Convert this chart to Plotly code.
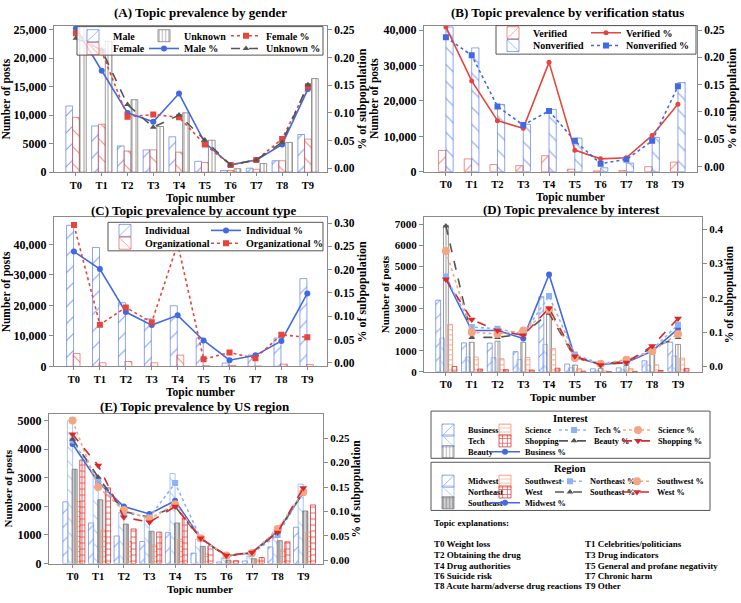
import plotly.graph_objects as go

# ---------------- data ----------------
topics = ["T0", "T1", "T2", "T3", "T4", "T5", "T6", "T7", "T8", "T9"]

# (A) gender
male_posts = [11600, 8100, 4600, 3900, 6200, 1900, 300, 700, 2000, 6600]
female_posts = [9600, 8400, 3700, 3900, 3500, 1700, 300, 500, 2000, 5800]
unknown_posts = [25700, 22900, 12700, 8000, 10400, 5600, 600, 1500, 5200, 16400]
male_pct = [0.253, 0.176, 0.100, 0.084, 0.135, 0.046, 0.006, 0.015, 0.043, 0.143]
female_pct = [0.244, 0.211, 0.093, 0.097, 0.092, 0.043, 0.006, 0.015, 0.053, 0.148]
unknown_pct = [0.235, 0.214, 0.115, 0.074, 0.096, 0.051, 0.006, 0.015, 0.047, 0.151]

# (B) verification
verified_posts = [6000, 3600, 2000, 1700, 4500, 700, 200, 300, 1400, 2700]
nonverified_posts = [40900, 35000, 19000, 13400, 17600, 9500, 1100, 2400, 9700, 25200]
verified_pct = [0.256, 0.157, 0.084, 0.070, 0.191, 0.030, 0.014, 0.016, 0.057, 0.114]
nonverified_pct = [0.237, 0.204, 0.110, 0.076, 0.102, 0.047, 0.005, 0.013, 0.047, 0.147]

# (C) account type
individual_posts = [46300, 39000, 20900, 15600, 19900, 9300, 1100, 3700, 9300, 28800]
organizational_posts = [4250, 1170, 1600, 1170, 3700, 210, 320, 100, 740, 640]
individual_pct = [0.239, 0.2015, 0.109, 0.081, 0.102, 0.048, 0.0055, 0.016, 0.047, 0.149]
organizational_pct = [0.296, 0.082, 0.119, 0.087, 0.256, 0.0076, 0.022, 0.0097, 0.060, 0.055]

# (D) interest
business_posts = [3400, 1370, 1360, 955, 3560, 370, 140, 185, 520, 1400]
tech_posts = [1600, 700, 670, 580, 1300, 190, 50, 90, 310, 750]
beauty_posts = [6950, 1400, 1450, 1400, 2750, 320, 150, 300, 950, 1300]
science_posts = [2250, 700, 620, 680, 1100, 150, 40, 150, 330, 650]
shopping_posts = [250, 130, 100, 80, 170, 30, 10, 20, 60, 160]
business_pct = [0.256, 0.105, 0.105, 0.082, 0.268, 0.028, 0.006, 0.012, 0.045, 0.110]
tech_pct = [0.262, 0.115, 0.110, 0.095, 0.205, 0.035, 0.008, 0.014, 0.050, 0.122]
beauty_pct = [0.409, 0.085, 0.085, 0.095, 0.155, 0.025, 0.008, 0.015, 0.055, 0.085]
science_pct = [0.336, 0.100, 0.095, 0.105, 0.165, 0.025, 0.008, 0.020, 0.045, 0.095]
shopping_pct = [0.254, 0.137, 0.105, 0.091, 0.170, 0.030, 0.005, 0.012, 0.060, 0.140]

# (E) US region
midwest_posts = [2160, 1420, 965, 770, 1080, 365, 57, 90, 580, 1270]
northeast_posts = [5000, 3100, 1800, 1600, 3150, 850, 200, 260, 1100, 2780]
southeast_posts = [3300, 2230, 1380, 1130, 1420, 600, 120, 170, 800, 1840]
southwest_posts = [2170, 1170, 770, 650, 850, 330, 60, 120, 480, 1100]
west_posts = [3620, 2650, 1210, 1100, 1600, 620, 100, 210, 760, 2050]
midwest_pct = [0.238, 0.160, 0.110, 0.095, 0.122, 0.045, 0.009, 0.016, 0.060, 0.138]
northeast_pct = [0.245, 0.165, 0.098, 0.088, 0.158, 0.045, 0.009, 0.014, 0.052, 0.140]
southeast_pct = [0.248, 0.170, 0.100, 0.088, 0.110, 0.044, 0.009, 0.015, 0.058, 0.140]
southwest_pct = [0.286, 0.150, 0.103, 0.085, 0.115, 0.045, 0.010, 0.015, 0.064, 0.140]
west_pct = [0.258, 0.194, 0.088, 0.078, 0.110, 0.045, 0.010, 0.016, 0.057, 0.148]

# tick labels
posts_ticks_a = [0, 5000, 10000, 15000, 20000, 25000]
posts_labels_a = ["0", "5000", "10,000", "15,000", "20,000", "25,000"]
posts_ticks_bc = [0, 10000, 20000, 30000, 40000]
posts_labels_bc = ["0", "10,000", "20,000", "30,000", "40,000"]
posts_ticks_d = [0, 1000, 2000, 3000, 4000, 5000, 6000, 7000]
posts_labels_d = ["0", "1000", "2000", "3000", "4000", "5000", "6000", "7000"]
posts_ticks_e = [0, 1000, 2000, 3000, 4000, 5000]
posts_labels_e = ["0", "1000", "2000", "3000", "4000", "5000"]

topic_explanations = [
    "T0 Weight loss", "T1 Celebrities/politicians",
    "T2 Obtaining the drug", "T3 Drug indicators",
    "T4 Drug authorities", "T5 General and profane negativity",
    "T6 Suicide risk", "T7 Chronic harm",
    "T8 Acute harm/adverse drug reactions", "T9 Other",
]

# ---------------- style ----------------
W, H = 741, 603
FONT = "Liberation Serif"
FRAME = "#8a8a8a"
CLEAR = "rgba(255,255,255,0)"
BLUE = "#4169e1"
BLUE_BAR = "rgba(65,105,225,0.6)"
RED = "#e5453a"
RED_BAR = "rgba(229,69,58,0.6)"
GREY = "#555555"
GREY_BAR = "rgba(110,110,110,0.7)"
LBLUE = "#8fb2f7"
LBLUE_BAR = "rgba(143,178,247,0.75)"
SALMON = "#f4a582"
SALMON_BAR = "rgba(244,150,115,0.8)"
DRED = "#d8282a"
DRED_BAR = "rgba(216,40,42,0.75)"


def fx(p):
    return p / W


def fy(p):
    return 1 - p / H


fig = go.Figure()

# panel geometry in pixels: (left, right, top, bottom), x-title position
panels = [
    dict(box=(54, 327, 23.5, 172), xr=[-0.85, 9.74], yl=[0, 25600], yr=[-0.0071, 0.2568],
         lt=(posts_ticks_a, posts_labels_a), rdt=0.05, rfmt=".2f", tf=12, rtf=11.5, xtf=10.5, atf=11.5,
         xt=(200, 198.5)),
    dict(box=(424, 697, 23, 171.5), xr=[-0.85, 9.74], yl=[0, 41300], yr=[-0.0095, 0.2584],
         lt=(posts_ticks_bc, posts_labels_bc), rdt=0.05, rfmt=".2f", tf=12, rtf=11.5, xtf=10.5, atf=11.5,
         xt=(570, 198)),
    dict(box=(54, 327, 218, 369.5), xr=[-0.77, 9.76], yl=[0, 48900], yr=[-0.0077, 0.3125],
         lt=(posts_ticks_bc, posts_labels_bc), rdt=0.05, rfmt=".2f", tf=12, rtf=11.5, xtf=10.5, atf=11.5,
         xt=(200, 396.5)),
    dict(box=(424, 702, 218, 375), xr=[-0.85, 9.93], yl=[0, 7330], yr=[-0.015, 0.4339],
         lt=(posts_ticks_d, posts_labels_d), rdt=0.1, rfmt=".1f", tf=11, rtf=11, xtf=10.5, atf=11,
         xt=(563, 400.5)),
    dict(box=(49, 323, 418, 570), xr=[-0.92, 9.77], yl=[0, 5230], yr=[-0.0066, 0.2993],
         lt=(posts_ticks_e, posts_labels_e), rdt=0.05, rfmt=".2f", tf=12, rtf=11, xtf=10.5, atf=11,
         xt=(200, 596)),
]

ann = []
for k, p in enumerate(panels):
    l, r, t, b = p["box"]
    xn = "" if k == 0 else str(k + 1)
    yl = "" if k == 0 else str(2 * k + 1)
    yr = str(2 * k + 2)
    common = dict(showgrid=False, zeroline=False, ticks="outside", tickwidth=1,
                  tickcolor=FRAME)
    fig.layout["xaxis" + xn] = dict(
        domain=[fx(l), fx(r)], range=p["xr"], anchor="y" + yl, type="category",
        showline=True, mirror=True, linecolor=FRAME, linewidth=1.2, ticklen=3,
        tickfont=dict(size=p["xtf"]), **common)
    fig.layout["yaxis" + yl] = dict(
        domain=[fy(b), fy(t)], range=p["yl"], anchor="x" + xn, ticklen=4,
        tickvals=p["lt"][0], ticktext=p["lt"][1], tickfont=dict(size=p["tf"]),
        showline=True, mirror=True, linecolor=FRAME, linewidth=1.2,
        title=dict(text="Number of posts", font=dict(size=p["atf"]), standoff=2), **common)
    fig.layout["yaxis" + yr] = dict(
        overlaying="y" + yl, side="right", anchor="x" + xn, range=p["yr"], ticklen=4,
        tick0=0, dtick=p["rdt"], tickformat=p["rfmt"], tickfont=dict(size=p["rtf"]),
        showline=False,
        title=dict(text="% of subpopulation", font=dict(size=p["atf"] + 0.5), standoff=0), **common)
    # x-axis title
    ann.append(dict(text="Topic number", x=fx(p["xt"][0]), y=fy(p["xt"][1]), xref="paper",
                    yref="paper", showarrow=False, xanchor="center", yanchor="middle",
                    font=dict(size=p["atf"])))


def axes(k):
    xa = "x" if k == 0 else "x%d" % (k + 1)
    ya = "y" if k == 0 else "y%d" % (2 * k + 1)
    yb = "y%d" % (2 * k + 2)
    return xa, ya, yb


def add_bar(k, name, vals, center, width, color, shape, legend, lw, size=12, solidity=0.1,
            bg=CLEAR):
    xa, ya, _ = axes(k)
    fig.add_trace(go.Bar(
        x=topics, y=vals, name=name, xaxis=xa, yaxis=ya,
        offset=center - width / 2, width=width,
        marker=dict(color=CLEAR, line=dict(color=color, width=1),
                    pattern=dict(shape=shape, size=size, solidity=solidity, fgcolor=color,
                                 bgcolor=bg, fillmode="replace")),
        legend=legend, legendwidth=lw))


def add_line(k, name, vals, color, dash, symbol, legend, lw, msize=6):
    xa, _, yb = axes(k)
    fig.add_trace(go.Scatter(
        x=topics, y=vals, name=name, xaxis=xa, yaxis=yb, mode="lines+markers",
        line=dict(color=color, width=1.6, dash=dash),
        marker=dict(symbol=symbol, size=msize, color=color),
        legend=legend, legendwidth=lw))


# ---- (A)
add_bar(0, "Male", male_posts, -0.26, 0.26, BLUE_BAR, "/", "legend", 26)
add_bar(0, "Female", female_posts, 0.0, 0.26, RED_BAR, "\\", "legend2", 26)
add_bar(0, "Unknown", unknown_posts, 0.27, 0.26, GREY_BAR, "|", "legend", 37, size=4, solidity=0.25)
add_line(0, "Male %", male_pct, BLUE, "solid", "circle", "legend2", 37)
add_line(0, "Female %", female_pct, RED, "dot", "square", "legend", 0)
add_line(0, "Unknown %", unknown_pct, GREY, "dash", "triangle-up", "legend2", 0)

# ---- (B)
add_bar(1, "Verified", verified_posts, -0.15, 0.28, RED_BAR, "/", "legend3", 48)
add_bar(1, "Nonverified", nonverified_posts, 0.14, 0.28, BLUE_BAR, "\\", "legend4", 48)
add_line(1, "Verified %", verified_pct, RED, "solid", "circle", "legend3", 0, msize=5)
add_line(1, "Nonverified %", nonverified_pct, BLUE, "dot", "square", "legend4", 0)

# ---- (C)
add_bar(2, "Individual", individual_posts, -0.15, 0.27, BLUE_BAR, "/", "legend5", 56)
add_bar(2, "Organizational", organizational_posts, 0.1, 0.27, RED_BAR, "\\", "legend6", 56)
add_line(2, "Individual %", individual_pct, BLUE, "solid", "circle", "legend5", 0)
add_line(2, "Organizational %", organizational_pct, RED, "dot", "square", "legend6", 0)

# ---- (D)
dw = 0.19
add_bar(3, "Business", business_posts, -0.30, dw, BLUE_BAR, "/", "legend7", 12, size=10)
add_bar(3, "Tech", tech_posts, -0.15, dw, LBLUE_BAR, "\\", "legend8", 12, size=10)
add_bar(3, "Beauty", beauty_posts, 0.0, dw, GREY_BAR, "|", "legend9", 12, size=4, solidity=0.25)
add_bar(3, "Science", science_posts, 0.16, dw, SALMON_BAR, "-", "legend7", 24, size=5, solidity=0.2)
add_bar(3, "Shopping", shopping_posts, 0.33, dw, DRED_BAR, "+", "legend8", 24, size=6, solidity=0.3)
add_line(3, "Business %", business_pct, BLUE, "solid", "circle", "legend9", 0)
add_line(3, "Tech %", tech_pct, LBLUE, "dot", "square", "legend7", 19)
add_line(3, "Beauty %", beauty_pct, GREY, "dash", "triangle-up", "legend8", 19)
add_line(3, "Science %", science_pct, SALMON, "dot", "circle", "legend7", 0, msize=8)
add_line(3, "Shopping %", shopping_pct, DRED, "dash", "triangle-down", "legend8", 0, msize=7)

# ---- (E)
ew = 0.2
add_bar(4, "Midwest", midwest_posts, -0.28, ew, BLUE_BAR, "/", "legend10", 12, size=10)
add_bar(4, "Northeast", northeast_posts, -0.10, ew, LBLUE_BAR, "\\", "legend11", 12, size=10)
add_bar(4, "Southeast", southeast_posts, 0.08, ew, GREY_BAR, "|", "legend12", 12, size=4,
        solidity=0.3, bg="rgba(150,150,150,0.45)")
add_bar(4, "Southwest", southwest_posts, 0.20, ew, SALMON_BAR, "-", "legend10", 20, size=5, solidity=0.2)
add_bar(4, "West", west_posts, 0.38, ew, DRED_BAR, "+", "legend11", 20, size=6, solidity=0.3)
add_line(4, "Midwest %", midwest_pct, BLUE, "solid", "circle", "legend12", 0)
add_line(4, "Northeast %", northeast_pct, LBLUE, "dot", "square", "legend10", 22)
add_line(4, "Southeast %", southeast_pct, GREY, "dash", "triangle-up", "legend11", 22)
add_line(4, "Southwest %", southwest_pct, SALMON, "dot", "circle", "legend10", 0, msize=8)
add_line(4, "West %", west_pct, DRED, "dash", "triangle-down", "legend11", 0, msize=7)

# ---------------- legends (one legend per row) ----------------
def leg(text_x, row_y, size):
    return dict(x=fx(text_x - 40), y=fy(row_y - 14.5), xanchor="left", yanchor="top",
                orientation="h", bgcolor="rgba(0,0,0,0)", borderwidth=0,
                font=dict(size=size), traceorder="normal", tracegroupgap=0)


legend_rows = {
    "legend": (113, 33, 10), "legend2": (113, 46, 10),
    "legend3": (533, 30, 10), "legend4": (533, 43, 10),
    "legend5": (145, 231, 10), "legend6": (145, 244, 10),
    "legend7": (468, 434, 8.3), "legend8": (468, 445, 8.3), "legend9": (468, 456, 8.3),
    "legend10": (468, 486, 8.3), "legend11": (468, 497, 8.3), "legend12": (468, 508, 8.3),
}
for key, (tx, ry, fs) in legend_rows.items():
    fig.layout[key] = leg(tx, ry, fs)

frames = [(77, 323, 24, 53), (496, 696, 23, 52), (108, 323, 223, 252),
          (431, 710, 415, 463), (431, 710, 467, 516)]
shapes = []
for (x0, x1, y0, y1) in frames:
    shapes.append(dict(type="rect", xref="paper", yref="paper", x0=fx(x0), x1=fx(x1),
                       y0=fy(y1), y1=fy(y0), line=dict(color="#555555", width=1),
                       fillcolor="rgba(255,255,255,0.8)", layer="above"))

# ---------------- annotations ----------------
titles = [("(A) Topic prevalence by gender", 200, 10),
          ("(B) Topic prevalence by verification status", 567, 10),
          ("(C) Topic prevalence by account type", 193, 211),
          ("(D) Topic prevalence by interest", 571, 210),
          ("(E) Topic prevalence by US region", 195, 410)]
for txt, x, y in titles:
    ann.append(dict(text=txt, x=fx(x), y=fy(y), xref="paper", yref="paper", showarrow=False,
                    xanchor="center", yanchor="middle", font=dict(size=13)))
for txt, y in [("Interest", 422), ("Region", 473)]:
    ann.append(dict(text=txt, x=fx(570), y=fy(y), xref="paper", yref="paper", showarrow=False,
                    xanchor="center", yanchor="middle", font=dict(size=10.5)))
ann.append(dict(text="Topic explanations:", x=fx(432), y=fy(529), xref="paper", yref="paper",
                showarrow=False, xanchor="left", yanchor="middle", font=dict(size=9)))
row_y = [550, 561, 572, 582.5, 593]
for i, txt in enumerate(topic_explanations):
    ann.append(dict(text=txt, x=fx(432 if i % 2 == 0 else 583), y=fy(row_y[i // 2]),
                    xref="paper", yref="paper", showarrow=False, xanchor="left",
                    yanchor="middle", font=dict(size=9)))

fig.update_layout(
    width=W, height=H, margin=dict(l=0, r=0, t=0, b=0),
    paper_bgcolor="white", plot_bgcolor="white",
    font=dict(family=FONT, size=11, color="black", weight="bold"),
    barmode="overlay", shapes=shapes, annotations=ann,
)

fig.write_html("out.html")
